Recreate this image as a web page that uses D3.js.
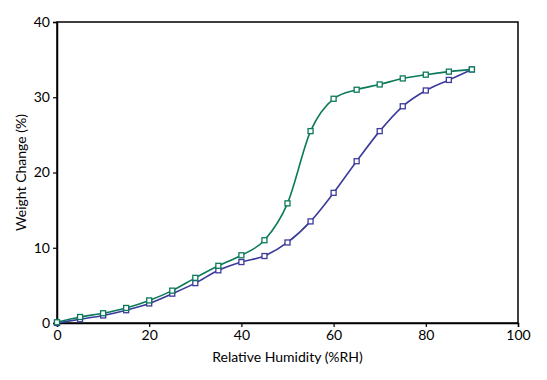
<!DOCTYPE html>
<html><head><meta charset="utf-8">
<script src="https://cdn.jsdelivr.net/npm/d3@7"></script>
<style>body{margin:0;background:#fff}svg{display:block}text{font-family:Lato,"Noto Sans",sans-serif;fill:#000}</style>
</head><body><svg id="c" width="547" height="380"></svg>
<script>
const rh = [0,5,10,15,20,25,30,35,40,45,50,55,60,65,70,75,80,85,90];
const sorption = [0.1,0.8,1.3,2.0,3.0,4.3,6.0,7.6,9.0,11.0,15.9,25.5,29.8,31.0,31.7,32.5,33.0,33.4,33.7];
const desorption = [0.0,0.5,1.0,1.7,2.6,3.9,5.3,7.0,8.1,8.9,10.7,13.5,17.3,21.5,25.5,28.8,30.9,32.3,33.7];
const xTicks = [0,20,40,60,80,100];
const yTicks = [0,10,20,30,40];
const xTitle = "Relative Humidity (%RH)";
const yTitle = "Weight Change (%)";

const svg = d3.select("#c");
const L=57, R=518, T=22, B=323;
const x = d3.scaleLinear().domain([0,100]).range([L,R]);
const y = d3.scaleLinear().domain([0,40]).range([B,T]);

svg.append("rect").attr("x",L).attr("y",T).attr("width",R-L).attr("height",B-T)
  .attr("fill","none").attr("stroke","#000").attr("stroke-width",1.5);

const xa = svg.append("g").attr("transform",`translate(0,${B})`)
  .call(d3.axisBottom(x).tickValues(xTicks).tickSize(4).tickPadding(3).tickFormat(d3.format("d")));
const ya = svg.append("g").attr("transform",`translate(${L},0)`)
  .call(d3.axisLeft(y).tickValues(yTicks).tickSize(4).tickPadding(3).tickFormat(d3.format("d")));
[xa,ya].forEach(a=>{a.select(".domain").attr("stroke","#000").attr("stroke-width",1.5);
  a.selectAll(".tick line").attr("stroke","#000").attr("stroke-width",1.2);
  a.selectAll("text").style("font-size","14px").attr("fill","#000");});

svg.append("text").attr("x",(L+R)/2).attr("y",362).attr("text-anchor","middle").style("font-size","14px").text(xTitle);
svg.append("text").attr("transform",`translate(26,${(T+B)/2}) rotate(-90)`).attr("text-anchor","middle").style("font-size","14px").text(yTitle);

const series = [{v:desorption,c:"#3b3b9c"},{v:sorption,c:"#0b7a5a"}];
const line = d3.line().x((d,i)=>x(rh[i])).y(d=>y(d)).curve(d3.curveMonotoneX);
series.forEach(s=>{
  svg.append("path").attr("d",line(s.v)).attr("fill","none").attr("stroke",s.c).attr("stroke-width",1.6);
  svg.append("g").selectAll("rect").data(s.v).join("rect")
    .attr("x",(d,i)=>x(rh[i])-2.5).attr("y",d=>y(d)-2.5).attr("width",5).attr("height",5)
    .attr("fill","#fff").attr("stroke",s.c).attr("stroke-width",1.3);
});
</script></body></html>
